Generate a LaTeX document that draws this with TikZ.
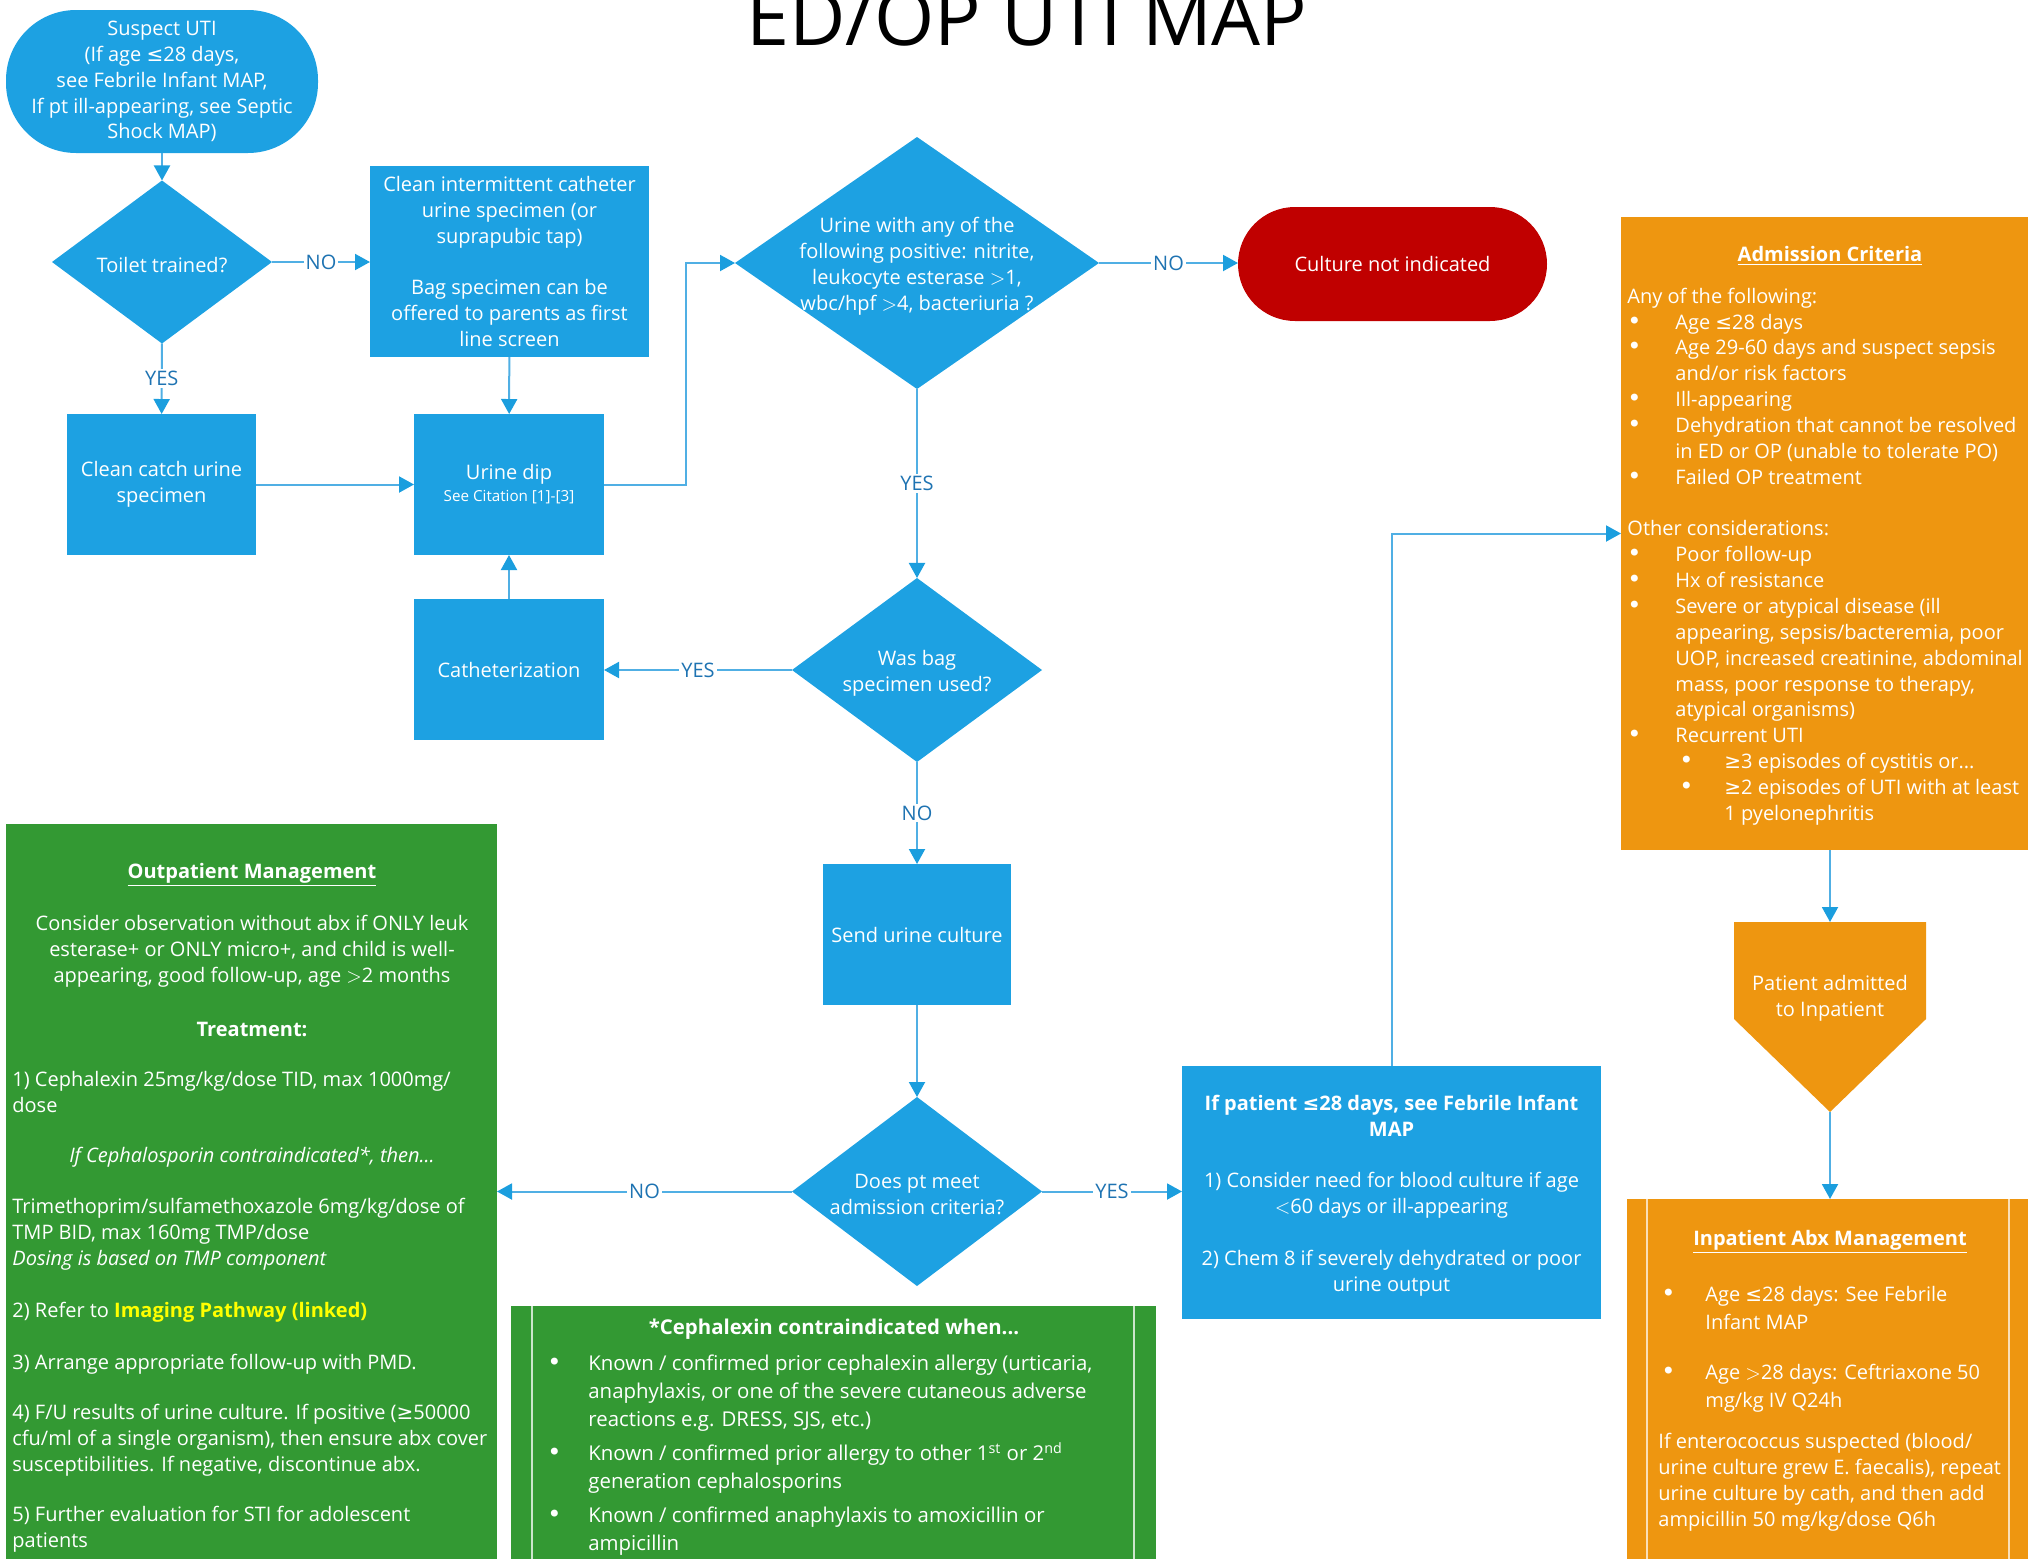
\documentclass[tikz,border=0pt]{standalone}
\usepackage{fontspec}
\setmainfont{Open Sans}
\newfontfamily\symf{DejaVu Sans}
\newcommand\myle{{\symf ≤}}
\newcommand\myge{{\symf ≥}}
\newcommand\bodyfont{\fontsize{10}{12.93}\selectfont}
\newcommand\smallfont{\fontsize{7.6}{8.5}\selectfont}
\newcommand\cephfont{\fontsize{10.2}{14}\selectfont}
\newcommand\bigdot{{\symf\fontsize{12}{12}\selectfont •}}
\newcommand\bul{\makebox[24pt][l]{\bigdot}}
\newcommand\ind{\hspace*{24pt}}
\newcommand\bulc{\makebox[20.5pt][l]{\bigdot}}
\newcommand\indc{\hspace*{20.5pt}}
\usetikzlibrary{arrows.meta,shapes.geometric}
\definecolor{bluefill}{RGB}{29,161,226}
\definecolor{greenfill}{RGB}{51,153,51}
\definecolor{orangefill}{RGB}{238,150,16}
\definecolor{redfill}{RGB}{192,0,0}
\definecolor{lineblue}{RGB}{80,175,228}
\definecolor{tipblue}{RGB}{27,158,222}
\definecolor{lblblue}{RGB}{30,115,178}
\definecolor{linkyellow}{RGB}{255,255,0}
\begin{document}
\begin{tikzpicture}[x=0.5pt,y=-0.5pt,
  proc/.style={rectangle, fill=bluefill, text=white, align=center, inner sep=0pt, outer sep=0pt, font=\bodyfont},
  term/.style={proc, rounded corners=#1},
  dia/.style={diamond, fill=bluefill, inner sep=0pt, outer sep=0pt},
  txt/.style={text=white, align=center, inner sep=0pt, font=\bodyfont, yshift=-1.5pt},
  ltxt/.style={text=white, align=left, inner sep=0pt, font=\bodyfont, yshift=-1.5pt},
  conn/.style={draw=lineblue, line width=1pt, -{Triangle[length=7.5pt,width=8pt,color=tipblue]}},
  lbl/.style={fill=white, text=lblblue, font=\bodyfont, inner sep=1pt},
  inner line/.style={line width=0.8pt}
]
\useasboundingbox (0,0) rectangle (2028,1558);

% title
\node[font=\fontsize{38.7}{42}\selectfont, anchor=base, inner sep=0pt] (title) at (1027,45) {ED/OP UTI MAP};

% flow nodes
\node[term=35pt, minimum width=156pt, minimum height=71.5pt] (start) at (162,81.5)
  {Suspect UTI\\(If age \myle28 days,\\see Febrile Infant MAP,\\If pt ill-appearing, see Septic\\Shock MAP)};
\node[dia, minimum width=110pt, minimum height=81.5pt] (toilet) at (162,262) {};
\node[txt] (toiletT) at (toilet) {Toilet trained?};
\node[proc, minimum width=139.5pt, minimum height=95.5pt] (cath) at (509.5,261.5)
  {Clean intermittent catheter\\urine specimen (or\\suprapubic tap)\\[12.93pt]Bag specimen can be\\offered to parents as first\\line screen};
\node[proc, minimum width=94.5pt, minimum height=70.5pt] (clean) at (161.5,484.5) {Clean catch urine\\specimen};
\node[proc, minimum width=95pt, minimum height=70.5pt] (dip) at (509,484.5) {Urine dip\\[-2pt]{\smallfont See Citation [1]-[3]}};
\node[proc, minimum width=95pt, minimum height=70.5pt] (cathz) at (509,669.5) {Catheterization};
\node[dia, minimum width=182pt, minimum height=126pt] (urine) at (917,263) {};
\node[txt] (urineT) at (urine) {Urine with any of the\\following positive: nitrite,\\leukocyte esterase $>$1,\\wbc/hpf $>$4, bacteriuria ?};
\node[term=28.5pt, fill=redfill, minimum width=154.5pt, minimum height=57pt] (culture) at (1392.5,264) {Culture not indicated};
\node[dia, minimum width=125pt, minimum height=92pt] (bag) at (917,670) {};
\node[txt] (bagT) at (bag) {Was bag\\specimen used?};
\node[proc, minimum width=94pt, minimum height=70.5pt] (send) at (917,934.5) {Send urine culture};
\node[dia, minimum width=125pt, minimum height=94.5pt] (admit) at (917,1191.5) {};
\node[txt] (admitT) at (admit) {Does pt meet\\admission criteria?};
\node[proc, minimum width=209.5pt, minimum height=126.5pt] (feb) at (1391.5,1192.5) {};
\node[txt] (febT) at (feb)
  {\textbf{If patient \myle28 days, see Febrile Infant}\\\textbf{MAP}\\[12.93pt]1) Consider need for blood culture if age\\$<$60 days or ill-appearing\\[12.93pt]2) Chem 8 if severely dehydrated or poor\\urine output};

% admission criteria
\node[rectangle, fill=orangefill, inner sep=0pt, outer sep=0pt, minimum width=209pt, minimum height=316.5pt] (adm) at (1830,533.5) {};
\node[txt] (admT) at (1830,253) {\underline{\textbf{Admission Criteria}}};
\node[ltxt, anchor=west] (admList) at (1627,553.5) {Any of the following:\\
\bul Age \myle28 days\\
\bul Age 29-60 days and suspect sepsis\\
\ind and/or risk factors\\
\bul Ill-appearing\\
\bul Dehydration that cannot be resolved\\
\ind in ED or OP (unable to tolerate PO)\\
\bul Failed OP treatment\\[12.93pt]
Other considerations:\\
\bul Poor follow-up\\
\bul Hx of resistance\\
\bul Severe or atypical disease (ill\\
\ind appearing, sepsis/bacteremia, poor\\
\ind UOP, increased creatinine, abdominal\\
\ind mass, poor response to therapy,\\
\ind atypical organisms)\\
\bul Recurrent UTI\\
\hspace*{26pt}\makebox[22.5pt][l]{\bigdot}\myge3 episodes of cystitis or...\\
\hspace*{26pt}\makebox[22.5pt][l]{\bigdot}\myge2 episodes of UTI with at least\\
\hspace*{48.5pt}1 pyelonephritis};

% patient admitted (off-page shape)
\coordinate (pentTop) at (1830,922);
\coordinate (pentBot) at (1830,1112);
\fill[orangefill] (1734,922) -- (1926,922) -- (1926,1019) -- (pentBot) -- (1734,1019) -- cycle;
\node[txt] (pentT) at (1830,995) {Patient admitted\\to Inpatient};

% inpatient abx
\node[rectangle, fill=orangefill, inner sep=0pt, outer sep=0pt, minimum width=201pt, minimum height=180.5pt] (abx) at (1828,1379.5) {};
\draw[inner line, white!70!orangefill] ([xshift=10pt]abx.north west) -- ([xshift=10pt]abx.south west);
\draw[inner line, white!70!orangefill] ([xshift=-10pt]abx.north east) -- ([xshift=-10pt]abx.south east);
\node[txt] (abxT) at (1830,1239) {\underline{\textbf{Inpatient Abx Management}}};
\node[ltxt, anchor=west, font=\fontsize{10}{14}\selectfont] (abx1) at (1661,1305) {\makebox[22pt][l]{\bigdot}Age \myle28 days: See Febrile\\\hspace*{22pt}Infant MAP};
\node[ltxt, anchor=west, font=\fontsize{10}{14}\selectfont] (abx2) at (1661,1385) {\makebox[22pt][l]{\bigdot}Age $>$28 days: Ceftriaxone 50\\\hspace*{22pt}mg/kg IV Q24h};
\node[ltxt, anchor=west] (abx3) at (1658,1479.5) {If enterococcus suspected (blood/\\urine culture grew E. faecalis), repeat\\urine culture by cath, and then add\\ampicillin 50 mg/kg/dose Q6h};

% outpatient management
\node[rectangle, fill=greenfill, inner sep=0pt, outer sep=0pt, minimum width=245.5pt, minimum height=368pt] (outp) at (251.5,1192) {};
\node[txt] (opT) at (252,872) {\underline{\textbf{Outpatient Management}}};
\node[txt] (op1) at (252,948) {Consider observation without abx if ONLY leuk\\esterase+ or ONLY micro+, and child is well-\\appearing, good follow-up, age $>$2 months};
\node[txt] (op2) at (252,1026) {\textbf{Treatment:}};
\node[ltxt, anchor=west] (op3) at (12,1089) {1) Cephalexin 25mg/kg/dose TID, max 1000mg/\\dose};
\node[txt] (op4) at (252,1154) {\textit{If Cephalosporin contraindicated*, then...}};
\node[ltxt, anchor=west] (op5) at (12,1231) {Trimethoprim/sulfamethoxazole 6mg/kg/dose of\\TMP BID, max 160mg TMP/dose\\\textit{Dosing is based on TMP component}};
\node[ltxt, anchor=west] (op6) at (12,1309) {2) Refer to \textcolor{linkyellow}{\textbf{Imaging Pathway (linked)}}};
\node[ltxt, anchor=west] (op7) at (12,1361) {3) Arrange appropriate follow-up with PMD.};
\node[ltxt, anchor=west] (op8) at (12,1437) {4) F/U results of urine culture. If positive (\myge50000\\cfu/ml of a single organism), then ensure abx cover\\susceptibilities. If negative, discontinue abx.};
\node[ltxt, anchor=west] (op9) at (12,1526) {5) Further evaluation for STI for adolescent\\patients};

% cephalexin contraindicated
\node[rectangle, fill=greenfill, inner sep=0pt, outer sep=0pt, minimum width=322.5pt, minimum height=127pt] (ceph) at (833.5,1433) {};
\draw[inner line, white!75!greenfill] ([xshift=10.5pt]ceph.north west) -- ([xshift=10.5pt]ceph.south west);
\draw[inner line, white!75!greenfill] ([xshift=-11pt]ceph.north east) -- ([xshift=-11pt]ceph.south east);
\node[txt, font=\cephfont] (cephT) at (834,1326) {\textbf{*Cephalexin contraindicated when...}};
\node[ltxt, anchor=west, font=\cephfont] (cephList) at (547,1452) {\bulc Known / confirmed prior cephalexin allergy (urticaria,\\
\indc anaphylaxis, or one of the severe cutaneous adverse\\
\indc reactions e.g. DRESS, SJS, etc.)\\[3pt]
\bulc Known / confirmed prior allergy to other 1\textsuperscript{st} or 2\textsuperscript{nd}\\
\indc generation cephalosporins\\[3pt]
\bulc Known / confirmed anaphylaxis to amoxicillin or\\
\indc ampicillin};

% connectors
\draw[conn] (start) -- (toilet);
\draw[conn] (toilet) -- node[lbl] {NO} (cath.west |- toilet);
\draw[conn] (toilet) -- node[lbl] {YES} (clean);
\draw[conn] (cath) -- (dip);
\draw[conn] (clean) -- (dip);
\draw[conn] (cathz) -- (dip);
\draw[conn] (dip.east) -- ++(82,0) |- (urine.west);
\draw[conn] (urine) -- node[lbl] {NO} (culture.west |- urine);
\draw[conn] (urine) -- node[lbl] {YES} (bag);
\draw[conn] (bag) -- node[lbl] {YES} (cathz.east |- bag);
\draw[conn] (bag) -- node[lbl] {NO} (send);
\draw[conn] (send) -- (admit);
\draw[conn] (admit) -- node[lbl] {NO} (outp.east |- admit);
\draw[conn] (admit) -- node[lbl] {YES} (feb.west |- admit);
\draw[conn] (feb.north) |- (adm.west);
\draw[conn] (adm.south -| pentTop) -- (pentTop);
\draw[conn] (pentBot) -- (pentBot |- abx.north);
\end{tikzpicture}
\end{document}
